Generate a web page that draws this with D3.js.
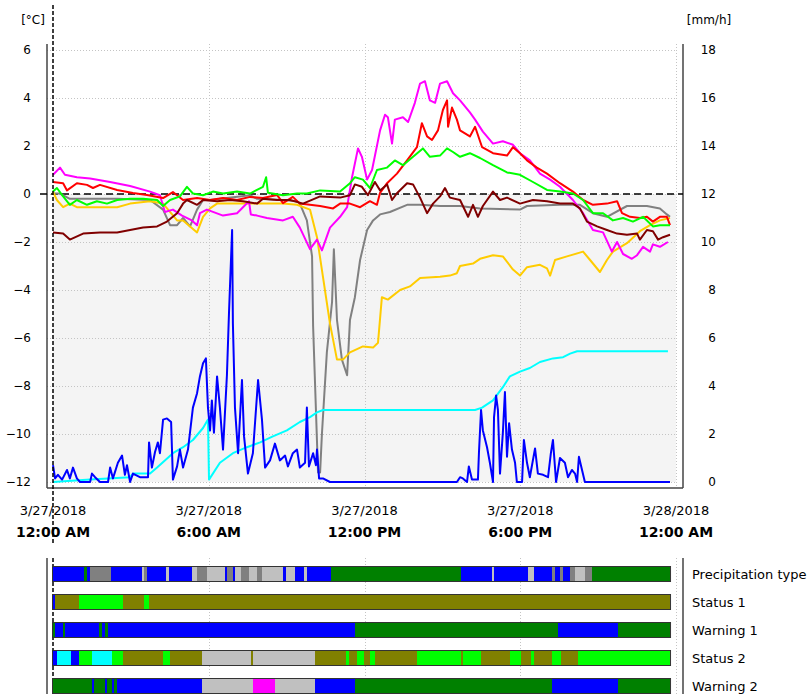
<!DOCTYPE html>
<html>
<head>
<meta charset="utf-8">
<script src="https://cdn.jsdelivr.net/npm/d3@7/dist/d3.min.js"></script>
<style>
  body { margin: 0; background: #fff; }
  svg { display: block; font-family: "DejaVu Sans", sans-serif; }
</style>
</head>
<body>
<script>
// ---- data (hours since 3/27/2018 00:00, value) ----
const leftTicks = [6, 4, 2, 0, -2, -4, -6, -8, -10, -12];
const rightTicks = [18, 16, 14, 12, 10, 8, 6, 4, 2, 0];
const xTicks = [0, 6, 12, 18, 24];
const dateLabels = ["3/27/2018", "3/27/2018", "3/27/2018", "3/27/2018", "3/28/2018"];
const timeLabels = ["12:00 AM", "6:00 AM", "12:00 PM", "6:00 PM", "12:00 AM"];
const dataEnd = 23.77;

// temperatures [°C], left axis
const magenta = [[0,0.8],[0.27,1.1],[0.46,0.8],[0.92,0.7],[1.43,0.65],[2.2,0.5],[2.97,0.33],[3.74,0.1],[4.12,-0.05],[4.31,-0.75],[4.62,-0.65],[4.97,-0.9],[5.35,-1.1],[5.55,-1.3],[5.66,-0.8],[5.93,-0.65],[6.55,-0.9],[7.09,-0.8],[7.55,-0.3],[7.62,-0.85],[7.86,-0.9],[8.24,-1.0],[8.86,-1.1],[9.24,-0.95],[9.51,-1.4],[9.9,-2.3],[10.17,-1.9],[10.36,-2.35],[10.67,-1.4],[11.06,-0.95],[11.33,-0.55],[11.52,0.7],[11.75,1.9],[11.9,1.55],[12.1,0.6],[12.29,1.0],[12.6,2.65],[12.79,3.3],[12.9,3.2],[13.06,2.1],[13.17,3.1],[13.48,3.2],[13.68,3.0],[13.94,3.8],[14.14,4.6],[14.33,4.7],[14.52,3.9],[14.72,3.8],[14.91,4.6],[15.18,4.7],[15.41,4.2],[15.68,3.9],[16.06,3.4],[16.26,3.1],[16.56,2.6],[16.95,2.1],[17.33,2.2],[17.72,2.05],[17.99,1.7],[18.37,1.4],[18.76,0.85],[19.15,0.6],[19.53,0.3],[20.03,-0.25],[20.42,-0.8],[20.8,-1.5],[21.19,-1.6],[21.53,-2.4],[21.73,-2.0],[21.96,-2.5],[22.3,-2.7],[22.5,-2.55],[22.73,-2.2],[23.0,-2.4],[23.11,-2.1],[23.38,-2.2],[23.69,-2.0]];
const red = [[0,0.5],[0.39,0.45],[0.54,0.15],[0.92,0.45],[1.31,0.38],[1.54,0.25],[1.81,0.38],[2.47,0.17],[3.08,0.04],[3.62,-0.04],[4.24,-0.17],[4.62,0.08],[5.01,-0.25],[5.55,-0.17],[6.05,-0.25],[6.55,-0.17],[7.09,-0.25],[7.59,-0.12],[8.09,-0.17],[8.63,-0.04],[8.86,-0.38],[9.24,-0.12],[9.51,-0.4],[10.29,-0.5],[10.79,-0.6],[11.06,-0.4],[11.44,-0.4],[11.83,-0.55],[12.21,-0.3],[12.48,-0.45],[12.6,0.05],[12.87,0.45],[13.25,0.85],[13.64,1.4],[14.02,1.95],[14.21,2.95],[14.41,2.4],[14.6,2.25],[14.83,2.65],[15.02,3.5],[15.18,3.9],[15.22,2.8],[15.37,3.6],[15.56,3.1],[15.68,2.65],[16.06,2.4],[16.26,2.8],[16.53,1.95],[16.95,1.7],[17.49,1.6],[17.72,1.95],[17.99,1.7],[18.26,1.4],[18.64,1.1],[19.03,0.85],[19.53,0.45],[20.03,0.1],[20.42,-0.25],[20.8,-0.45],[21.34,-0.4],[21.73,-0.3],[21.92,-0.8],[22.23,-0.95],[22.61,-1.0],[22.88,-0.95],[23.11,-1.15],[23.38,-0.95],[23.65,-0.95],[23.77,-1.3]];
const green = [[0,0.1],[0.15,0.25],[0.39,-0.1],[0.65,-0.45],[0.92,-0.25],[1.31,-0.45],[1.69,-0.3],[2.08,-0.4],[2.47,-0.25],[2.97,-0.2],[3.47,-0.2],[4.01,-0.25],[4.24,-0.5],[4.51,-0.25],[4.89,-0.1],[5.16,0.3],[5.39,0.02],[5.78,-0.05],[6.16,0.1],[6.55,0.02],[7.09,0.1],[7.59,0.02],[8.09,0.3],[8.21,0.7],[8.28,0.05],[8.86,-0.05],[9.4,0.02],[9.78,0.02],[10.29,0.15],[11.06,0.1],[11.44,0.45],[11.63,0.7],[11.94,0.6],[12.21,0.25],[12.48,1.0],[12.87,1.1],[13.17,1.4],[13.48,1.2],[13.87,1.55],[14.25,1.9],[14.52,1.55],[14.91,1.6],[15.18,1.9],[15.41,1.75],[15.68,1.55],[16.06,1.7],[16.45,1.5],[16.95,1.2],[17.49,0.9],[17.99,0.8],[18.49,0.5],[19.03,0.17],[19.53,0.1],[20.03,0.02],[20.42,-0.25],[20.8,-0.8],[21.19,-0.8],[21.57,-1.1],[21.96,-1.0],[22.34,-1.15],[22.73,-0.95],[23.11,-1.35],[23.38,-1.3],[23.77,-1.3]];
const maroon = [[0,-1.6],[0.39,-1.65],[0.65,-1.9],[1.16,-1.65],[1.81,-1.6],[2.47,-1.6],[2.97,-1.5],[3.47,-1.4],[4.01,-1.35],[4.39,-1.15],[4.78,-0.8],[5.01,-0.4],[5.16,-0.25],[5.55,-0.45],[5.78,-0.25],[6.32,-0.3],[6.82,-0.25],[7.32,-0.3],[7.86,-0.4],[8.09,-0.2],[8.63,-0.25],[9.13,-0.25],[9.63,-0.4],[10.29,-0.1],[11.06,-0.15],[11.44,-0.05],[11.63,0.4],[11.9,0.3],[12.13,-0.05],[12.4,0.5],[12.6,0.15],[12.87,0.4],[13.06,-0.25],[13.25,0.03],[13.64,0.45],[13.87,0.4],[14.14,-0.15],[14.41,-0.8],[14.64,-0.4],[14.91,-0.1],[15.1,0.25],[15.29,-0.15],[15.68,-0.25],[15.99,-0.95],[16.18,-0.45],[16.37,-0.95],[16.56,-0.5],[16.95,0.1],[17.22,-0.25],[17.49,-0.15],[17.99,-0.4],[18.49,-0.25],[19.03,-0.3],[19.53,-0.4],[20.03,-0.4],[20.3,-0.6],[20.57,-1.15],[20.96,-1.35],[21.34,-1.5],[21.73,-1.65],[22.11,-1.7],[22.5,-1.65],[22.61,-1.9],[22.88,-1.5],[23.11,-1.55],[23.31,-1.9],[23.5,-1.8],[23.77,-1.7]];
const gray = [[0,0.02],[0.27,0.02],[0.65,-0.2],[1.16,-0.2],[2.47,-0.2],[3.74,-0.25],[4.24,-0.65],[4.51,-1.3],[4.78,-1.3],[5.01,-1.0],[5.28,-1.35],[5.55,-0.65],[5.78,-0.25],[6.05,-0.25],[7.59,-0.05],[7.86,-0.2],[8.86,-0.25],[9.4,-0.3],[9.51,-0.4],[9.78,-1.1],[9.98,-2.6],[10.02,-5.5],[10.09,-7.75],[10.21,-11.6],[10.29,-11.6],[10.36,-10.0],[10.55,-6.6],[10.75,-4.5],[10.82,-2.3],[10.94,-5.25],[11.13,-6.9],[11.33,-7.55],[11.44,-5.25],[11.63,-4.3],[11.83,-2.75],[12.1,-1.5],[12.33,-1.1],[12.6,-0.85],[12.98,-0.75],[13.64,-0.45],[14.14,-0.45],[14.91,-0.5],[15.68,-0.5],[16.45,-0.6],[17.99,-0.65],[18.26,-0.5],[19.53,-0.45],[20.3,-0.45],[20.8,-0.8],[21.34,-0.95],[22.11,-0.5],[22.88,-0.5],[23.38,-0.6],[23.65,-0.85],[23.77,-0.95]];
const gold = [[0,0.1],[0.15,-0.25],[0.39,-0.55],[0.65,-0.4],[0.92,-0.55],[1.81,-0.55],[2.47,-0.55],[2.97,-0.4],[3.74,-0.3],[4.24,-0.4],[4.78,-1.1],[5.01,-1.1],[5.28,-1.35],[5.55,-1.6],[5.78,-0.95],[6.05,-0.6],[6.32,-0.4],[7.59,-0.4],[8.86,-0.4],[9.4,-0.45],[9.9,-0.65],[10.17,-1.8],[10.4,-3.45],[10.67,-5.4],[10.94,-6.9],[11.17,-6.9],[11.44,-6.6],[11.94,-6.35],[12.33,-6.4],[12.52,-6.2],[12.67,-4.3],[12.9,-4.4],[13.37,-4.0],[13.75,-3.85],[14.14,-3.5],[14.91,-3.45],[15.29,-3.4],[15.56,-3.3],[15.68,-3.0],[16.18,-2.9],[16.45,-2.7],[16.95,-2.55],[17.33,-2.6],[17.72,-3.15],[17.99,-3.4],[18.26,-3.05],[18.76,-2.95],[19.03,-3.1],[19.15,-3.4],[19.34,-2.75],[19.8,-2.6],[20.42,-2.4],[20.69,-2.75],[21.07,-3.25],[21.34,-2.75],[21.57,-2.4],[22.11,-2.05],[22.61,-1.55],[23.0,-1.3],[23.38,-1.1],[23.77,-1.0]];

// precipitation [mm/h], right axis
const cyan = [[0,0],[1.43,0.1],[2.97,0.2],[3.08,0.35],[3.74,0.35],[4.01,0.6],[4.62,1.2],[5.01,1.45],[5.39,1.75],[5.78,2.25],[5.97,2.6],[6.01,0.1],[6.43,0.8],[6.93,1.2],[7.47,1.45],[7.98,1.65],[8.47,1.9],[9.01,2.15],[9.51,2.5],[9.9,2.7],[10.17,2.9],[10.4,3.0],[16.26,3.0],[16.53,3.1],[16.95,3.4],[17.33,3.95],[17.6,4.4],[17.99,4.6],[18.37,4.75],[18.76,5.0],[19.26,5.15],[19.65,5.2],[19.92,5.35],[20.19,5.45],[23.69,5.45]];
const blue = [[0,0.7],[0.08,0.15],[0.19,0.3],[0.35,0.1],[0.54,0.5],[0.65,0.15],[0.77,0.6],[0.92,0.15],[1.04,0],[1.43,0],[1.5,0.35],[1.62,0.2],[1.81,0],[2.12,0],[2.2,0.6],[2.31,0.15],[2.5,0.8],[2.66,1.1],[2.77,0.3],[2.85,0.7],[2.97,0],[3.08,0.35],[3.35,0.2],[3.66,0.2],[3.7,1.65],[3.81,0.6],[3.93,1.25],[4.04,1.65],[4.12,1.2],[4.24,2.6],[4.39,2.65],[4.55,2.5],[4.62,0.1],[4.78,0.65],[4.89,1.35],[5.01,0.6],[5.2,1.35],[5.39,3.1],[5.55,3.7],[5.66,4.4],[5.78,4.95],[5.89,5.15],[5.97,3.1],[6.05,2.15],[6.12,3.4],[6.2,2.05],[6.32,4.4],[6.43,3.1],[6.55,1.35],[6.7,4.45],[6.78,7.05],[6.9,10.5],[6.93,6.6],[7.01,3.1],[7.13,1.2],[7.28,4.25],[7.36,1.9],[7.51,0.35],[7.7,1.2],[7.9,4.25],[8.05,2.6],[8.17,0.6],[8.36,0.9],[8.55,1.6],[8.74,0.9],[8.94,1.1],[9.05,0.65],[9.24,1.2],[9.4,1.35],[9.51,0.6],[9.71,0.8],[9.78,3.1],[9.86,0.65],[10.02,1.2],[10.13,0.7],[10.17,1.35],[10.25,0.15],[10.4,0.15],[10.67,0],[15.56,0],[15.68,0.2],[15.79,0.15],[15.95,0],[16.02,0.65],[16.14,0.1],[16.37,0.1],[16.41,1.25],[16.49,3.0],[16.56,2.15],[16.72,1.45],[16.83,0.8],[16.95,0],[16.99,2.7],[17.07,3.6],[17.14,3.0],[17.22,0.35],[17.33,2.05],[17.41,3.75],[17.49,1.05],[17.57,2.45],[17.68,1.35],[17.8,0.8],[17.87,0],[18.07,0],[18.14,1.75],[18.26,0.8],[18.37,0.2],[18.57,1.4],[18.68,0.35],[18.88,0.3],[19.07,0.2],[19.18,1.2],[19.26,1.75],[19.38,0],[19.53,1.0],[19.72,0.8],[19.84,0.2],[19.99,0.5],[20.11,0.35],[20.19,0],[20.26,1.05],[20.38,0.5],[20.49,0],[23.77,0]];

// status strips: [start hour, state]
const statusNames = ["Precipitation type", "Status 1", "Warning 1", "Status 2", "Warning 2"];
const precipType = [[0,"blue"],[1.21,"green"],[1.30,"blue"],[1.43,"gray"],[2.22,"blue"],[3.42,"ltgray"],[3.51,"gray"],[3.63,"blue"],[4.35,"ltgray"],[4.48,"blue"],[5.37,"ltgray"],[5.54,"gray"],[5.94,"ltgray"],[6.63,"blue"],[6.71,"gray"],[6.95,"blue"],[7.01,"ltgray"],[7.24,"gray"],[7.56,"ltgray"],[7.85,"gray"],[8.06,"ltgray"],[8.87,"blue"],[8.98,"ltgray"],[9.32,"blue"],[9.68,"ltgray"],[9.77,"blue"],[10.70,"green"],[15.71,"blue"],[16.90,"ltgray"],[16.99,"blue"],[18.31,"ltgray"],[18.53,"blue"],[19.23,"gray"],[19.34,"blue"],[19.53,"gray"],[19.64,"blue"],[19.92,"gray"],[20.11,"ltgray"],[20.49,"gray"],[20.75,"green"]];
const status1 = [[0,"blue"],[0.08,"olive"],[1.00,"lime"],[2.71,"olive"],[3.52,"lime"],[3.70,"olive"]];
const warning1 = [[0,"green"],[0.08,"blue"],[0.40,"green"],[0.46,"blue"],[1.78,"green"],[1.89,"blue"],[2.01,"green"],[2.13,"blue"],[11.62,"green"],[19.44,"blue"],[21.75,"green"]];
const status2 = [[0,"blue"],[0.17,"cyan"],[0.68,"blue"],[1.00,"lime"],[1.49,"cyan"],[2.28,"lime"],[2.71,"olive"],[4.23,"lime"],[4.50,"olive"],[5.74,"ltgray"],[7.63,"olive"],[7.72,"ltgray"],[10.10,"olive"],[11.28,"lime"],[11.40,"olive"],[11.72,"lime"],[11.98,"olive"],[12.21,"lime"],[12.42,"olive"],[14.03,"lime"],[15.71,"olive"],[15.78,"lime"],[16.48,"olive"],[17.60,"lime"],[18.03,"olive"],[18.41,"lime"],[18.53,"olive"],[19.23,"lime"],[19.56,"olive"],[20.24,"lime"]];
const warning2 = [[0,"green"],[1.49,"blue"],[1.58,"green"],[2.01,"blue"],[2.09,"green"],[2.26,"blue"],[2.35,"green"],[2.48,"blue"],[5.74,"ltgray"],[7.72,"magenta"],[8.55,"ltgray"],[10.10,"blue"],[11.62,"green"],[19.23,"blue"],[21.75,"green"]];

const stateColor = { blue: "#0000ff", green: "#008000", gray: "#808080", ltgray: "#c0c0c0",
  olive: "#808000", lime: "#00ff00", cyan: "#00ffff", magenta: "#ff00ff" };

function drawChart() {
  const W = 810, H = 694;
  const svg = d3.select("body").append("svg").attr("width", W).attr("height", H);

  const x = d3.scaleLinear().domain([0, 24]).range([53, 676]);
  const yL = d3.scaleLinear().domain([-12, 6]).range([482, 50]);
  const yR = d3.scaleLinear().domain([0, 18]).range([482, 50]);

  const axisL = 47, axisR = 683, plotTop = 44, plotBottom = 488;

  // below-zero shading
  svg.append("rect")
    .attr("x", x(0)).attr("y", yL(0))
    .attr("width", x(24) - x(0)).attr("height", yL(-12) - yL(0))
    .attr("fill", "#f4f4f4");

  // grid
  const grid = svg.append("g").attr("stroke", "#c4c4c4").attr("stroke-dasharray", "1,2");
  grid.selectAll(".hg").data(leftTicks).enter().append("line")
    .attr("x1", axisL).attr("x2", x(24) + 1)
    .attr("y1", d => yL(d) + 0.5).attr("y2", d => yL(d) + 0.5);
  grid.selectAll(".vg").data(xTicks.slice(1)).enter().append("line")
    .attr("x1", d => Math.round(x(d)) + 0.5).attr("x2", d => Math.round(x(d)) + 0.5)
    .attr("y1", plotTop).attr("y2", plotBottom);

  // axes frame
  const frame = svg.append("g").attr("stroke", "#444").attr("stroke-width", 1.5);
  frame.append("line").attr("x1", axisL).attr("x2", axisL).attr("y1", plotTop).attr("y2", plotBottom);
  frame.append("line").attr("x1", axisR).attr("x2", axisR).attr("y1", plotTop).attr("y2", plotBottom);
  frame.append("line").attr("x1", axisL).attr("x2", axisR).attr("y1", plotBottom).attr("y2", plotBottom);

  // zero line
  svg.append("line")
    .attr("x1", 40).attr("x2", axisR)
    .attr("y1", yL(0)).attr("y2", yL(0))
    .attr("stroke", "#000").attr("stroke-width", 1.5).attr("stroke-dasharray", "7,4");

  // tick labels
  const gl = svg.append("g").attr("transform", "translate(" + axisL + ",0)")
    .call(d3.axisLeft(yL).tickValues(leftTicks).tickSize(0).tickPadding(16));
  gl.select(".domain").remove();
  gl.selectAll("text").attr("font-size", 12).attr("font-family", "DejaVu Sans").attr("fill", "#000");

  const gr = svg.append("g").attr("transform", "translate(" + axisR + ",0)")
    .call(d3.axisRight(yR).tickValues(rightTicks).tickSize(0).tickPadding(33));
  gr.select(".domain").remove();
  gr.selectAll("text").attr("font-size", 12).attr("font-family", "DejaVu Sans").attr("fill", "#000")
    .attr("text-anchor", "end");

  svg.append("text").attr("x", 33).attr("y", 20).attr("dy", "0.35em")
    .attr("text-anchor", "middle").attr("font-size", 12).text("[°C]");
  svg.append("text").attr("x", 709).attr("y", 20).attr("dy", "0.35em")
    .attr("text-anchor", "middle").attr("font-size", 12).text("[mm/h]");

  svg.selectAll(".dlab").data(xTicks).enter().append("text")
    .attr("x", d => x(d)).attr("y", 510).attr("dy", "0.35em")
    .attr("text-anchor", "middle").attr("font-size", 13)
    .text((d, i) => dateLabels[i]);
  svg.selectAll(".tlab").data(xTicks).enter().append("text")
    .attr("x", d => x(d)).attr("y", 532).attr("dy", "0.35em")
    .attr("text-anchor", "middle").attr("font-size", 14).attr("font-weight", "bold")
    .text((d, i) => timeLabels[i]);

  // series
  const lineL = d3.line().x(d => x(d[0])).y(d => yL(d[1]));
  const lineR = d3.line().x(d => x(d[0])).y(d => yR(d[1]));
  const series = [
    { d: gray, c: "#808080", f: lineL },
    { d: cyan, c: "#00ffff", f: lineR },
    { d: gold, c: "#ffcc00", f: lineL },
    { d: magenta, c: "#ff00ff", f: lineL },
    { d: red, c: "#ff0000", f: lineL },
    { d: green, c: "#00ff00", f: lineL },
    { d: maroon, c: "#800000", f: lineL },
    { d: blue, c: "#0000ff", f: lineR }
  ];
  svg.append("g").selectAll("path").data(series).enter().append("path")
    .attr("d", s => s.f(s.d))
    .attr("fill", "none").attr("stroke", s => s.c)
    .attr("stroke-width", 2).attr("stroke-linejoin", "round");

  // start-of-day marker
  svg.append("line").attr("x1", x(0)).attr("x2", x(0)).attr("y1", 5).attr("y2", 545)
    .attr("stroke", "#000").attr("stroke-width", 1.5).attr("stroke-dasharray", "4,2");

  // ---- status strips ----
  const stTop = 558, rowTop = 567, rowStep = 28, rowH = 14;
  const sg = svg.append("g");
  sg.append("line").attr("x1", axisL).attr("x2", axisL).attr("y1", stTop).attr("y2", H)
    .attr("stroke", "#444").attr("stroke-width", 1.5);
  sg.append("line").attr("x1", axisR).attr("x2", axisR).attr("y1", stTop).attr("y2", H)
    .attr("stroke", "#444").attr("stroke-width", 1.5);
  sg.selectAll(".sv").data(xTicks.slice(1)).enter().append("line")
    .attr("x1", d => Math.round(x(d)) + 0.5).attr("x2", d => Math.round(x(d)) + 0.5)
    .attr("y1", stTop).attr("y2", H)
    .attr("stroke", "#c4c4c4").attr("stroke-dasharray", "1,2");
  sg.append("line").attr("x1", x(0)).attr("x2", x(0)).attr("y1", stTop).attr("y2", H)
    .attr("stroke", "#000").attr("stroke-width", 1.5).attr("stroke-dasharray", "4,2");

  const rows = [precipType, status1, warning1, status2, warning2];
  rows.forEach((segs, r) => {
    const y0 = rowTop + r * rowStep;
    const g = sg.append("g");
    g.selectAll("rect").data(segs).enter().append("rect")
      .attr("x", d => x(d[0]))
      .attr("width", (d, i) => x(i + 1 < segs.length ? segs[i + 1][0] : dataEnd) - x(d[0]))
      .attr("y", y0).attr("height", rowH)
      .attr("fill", d => stateColor[d[1]])
      .attr("shape-rendering", "crispEdges");
    g.append("rect")
      .attr("x", x(0) - 0.5).attr("y", y0 - 0.5)
      .attr("width", x(dataEnd) - x(0) + 1).attr("height", rowH + 1)
      .attr("fill", "none").attr("stroke", "#333").attr("stroke-width", 1);
    sg.append("text").attr("x", 692).attr("y", y0 + rowH / 2).attr("dy", "0.35em")
      .attr("font-size", 13).text(statusNames[r]);
  });
}

drawChart();
</script>
</body>
</html>
